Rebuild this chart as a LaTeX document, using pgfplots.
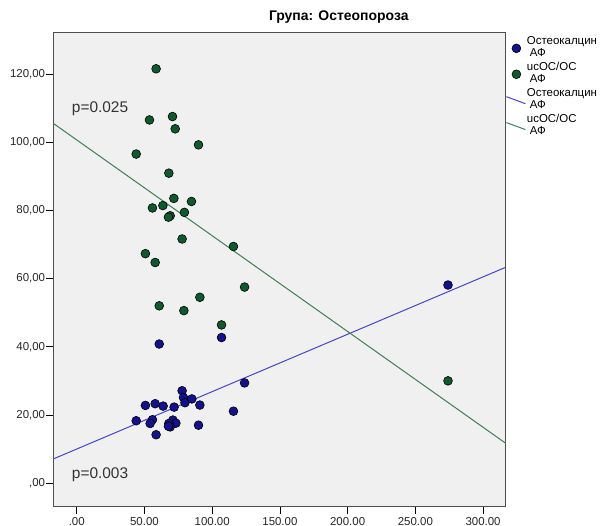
\documentclass[border=0pt]{standalone}
\usepackage{fontspec}
\setmainfont{Liberation Sans}
\usepackage{pgfplots}
\pgfplotsset{compat=1.18}

\definecolor{oscblue}{HTML}{12128F}
\definecolor{ucgreen}{HTML}{0F5A2D}
\definecolor{bluefit}{HTML}{4646C8}
\definecolor{greenfit}{HTML}{3F7F52}
\definecolor{panel}{HTML}{F0F0F0}
\definecolor{framecol}{HTML}{4D4D4D}
\definecolor{ptext}{HTML}{333333}

\newcommand{\legfont}{\fontsize{11.5}{12}\selectfont}
\newcommand{\twoline}[2]{\begin{tabular}{@{}l@{}}#1\\\hspace{3bp}#2\end{tabular}}

\pgfplotsset{
  dotlegend/.style={legend image code/.code={\path[draw=none, fill=none] (0bp,0bp) -- (20bp,0bp);
    \path[##1] plot[only marks] coordinates {(10bp,0bp)};}},
  slantlegend/.style={legend image code/.code={\draw[##1] (0bp,3.5bp) -- (19bp,-3.5bp);}},
}

% Osteocalcin vs. AF
\pgfplotstableread{
x y
60.9 40.8
106.9 42.7
123.9 29.4
77.8 27.1
78.8 25.1
79.9 23.6
85.0 24.7
90.9 22.9
50.7 22.8
57.9 23.3
63.8 22.6
71.9 22.3
43.9 18.3
55.9 18.6
54.2 17.5
71.0 18.5
73.2 17.6
68.0 17.5
69.0 16.5
67.7 16.7
89.9 17.0
115.7 21.1
58.6 14.2
274.1 58.1
}\osteo

% ucOC/OC vs. AF
\pgfplotstableread{
x y
58.6 121.5
53.7 106.5
70.7 107.5
72.7 103.9
89.9 99.2
43.9 96.5
68.0 90.9
71.7 83.5
84.7 82.6
55.9 80.7
63.6 81.4
69.0 78.4
67.7 78.0
79.5 79.4
77.8 71.6
115.7 69.4
50.7 67.3
57.9 64.7
60.9 52.0
79.1 50.6
90.9 54.5
123.9 57.5
106.9 46.4
274.1 30.0
}\ucoc

\begin{document}
\begin{tikzpicture}
\path[use as bounding box] (0,0) rectangle (601bp,526bp);
\begin{axis}[
  at={(53.3bp,19.3bp)}, anchor=south west,
  scale only axis, width=452.4bp, height=473.7bp,
  xmin=-17.3, xmax=316.7, ymin=-6.9, ymax=132,
  axis background/.style={fill=panel},
  axis line style={draw=framecol, line width=1bp},
  tick align=outside, tick pos=left,
  major tick length=7bp,
  every tick/.style={black, line width=0.8bp},
  xtick={0,50,100,150,200,250,300},
  xticklabels={.00,50.00,100.00,150.00,200.00,250.00,300.00},
  ytick={0,20,40,60,80,100,120},
  yticklabels={{,00},{20,00},{40,00},{60,00},{80,00},{100,00},{120,00}},
  tick label style={font=\fontsize{11.5}{13}\selectfont, text=black!85},
  yticklabel style={inner sep=1bp},
  title={Група: Остеопороза},
  title style={at={(0.631,1)}, anchor=base, yshift=6.3bp,
    font=\fontsize{14}{16}\selectfont\bfseries, inner sep=0pt},
  legend style={at={(1,1)}, anchor=north west, yshift=-2.7bp,
    draw=none, fill=none, inner sep=0pt, row sep=1bp, column sep=0pt,
    nodes={inner sep=0.5bp, text depth=, text height=}, font=\legfont,
    cells={anchor=west}},
  legend cell align=left,
  mark size=4.4bp,
]
% fitted lines
\addplot[bluefit, line width=1bp, forget plot] coordinates {(-17.3,7.1) (316.7,63.3)};
\addplot[greenfit, line width=1bp, forget plot] coordinates {(-17.3,105.5) (316.7,11.7)};

% observations
\addplot[only marks, mark=*, mark options={fill=oscblue, draw=black, line width=0.6bp}, dotlegend]
  table[x=x, y=y] {\osteo};
\addlegendentry{\twoline{Остеокалцин}{АФ}}
\addplot[only marks, mark=*, mark options={fill=ucgreen, draw=black, line width=0.6bp}, dotlegend]
  table[x=x, y=y] {\ucoc};
\addlegendentry{\twoline{ucOC/OC}{АФ}}

\addlegendimage{bluefit, line width=1bp, slantlegend}
\addlegendentry{\twoline{Остеокалцин}{АФ}}
\addlegendimage{greenfit, line width=1bp, slantlegend}
\addlegendentry{\twoline{ucOC/OC}{АФ}}

\node[anchor=west, inner sep=0pt, text=ptext, font=\fontsize{15.5}{18}\selectfont]
  at (axis cs:-3.7,109.7) {p=0.025};
\node[anchor=west, inner sep=0pt, text=ptext, font=\fontsize{15.5}{18}\selectfont]
  at (axis cs:-3.7,2.4) {p=0.003};
\end{axis}
\end{tikzpicture}
\end{document}
